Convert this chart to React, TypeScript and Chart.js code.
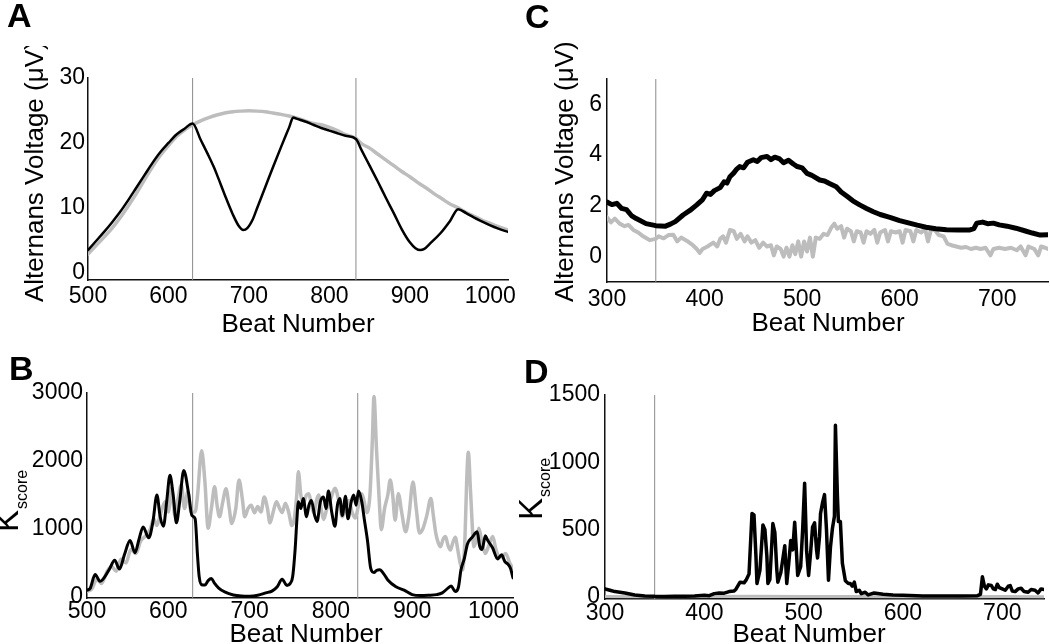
import React, { useEffect, useRef } from "react";
import { Chart, registerables } from "chart.js";

Chart.register(...registerables);

const FONT = '"Liberation Sans", Arial, Helvetica, sans-serif';
const GRAY = "#bdbdbd";
const BLACK = "#000000";
const MARKER = "#8c8c8c";

// ---------- Panel A : Alternans voltage (simulated) ----------
const aGrayBeats = [500, 510, 520, 530, 540, 550, 560, 570, 580, 590, 600, 610, 620, 630, 640, 650, 660, 670, 680, 690, 700, 710, 720, 730, 740, 750, 760, 770, 780, 790, 800, 810, 820, 833, 840, 850, 860, 870, 880, 890, 900, 910, 920, 930, 940, 950, 960, 970, 980, 990, 1000, 1010, 1022];
const aGray = [2.9, 4.2, 5.5, 6.9, 8.5, 10.3, 12.2, 14.3, 16.3, 18.1, 19.6, 21.0, 22.0, 22.8, 23.4, 23.9, 24.3, 24.6, 24.8, 24.9, 24.95, 24.9, 24.8, 24.6, 24.4, 24.15, 23.8, 23.4, 23.0, 22.8, 22.4, 21.9, 21.3, 20.7, 19.9, 19.2, 18.3, 17.4, 16.5, 15.6, 14.8, 13.9, 13.1, 12.2, 11.4, 10.6, 10.0, 9.3, 8.7, 8.1, 7.6, 7.1, 6.6];
const aBlackBeats = [500, 510, 520, 530, 540, 550, 560, 570, 580, 590, 600, 610, 620, 630, 640, 650, 656, 660, 670, 680, 687, 693, 698, 705, 710, 720, 730, 740, 750, 755, 760, 770, 780, 790, 800, 810, 820, 833, 840, 850, 860, 870, 880, 890, 900, 907, 913, 918, 925, 938, 950, 960, 970, 980, 990, 1000, 1010, 1022];
const aBlack = [3.5, 4.9, 6.3, 7.8, 9.4, 11.2, 13.1, 15.0, 16.9, 18.6, 20.0, 21.3, 22.2, 23.0, 20.5, 18.0, 16.4, 15.2, 12.0, 9.0, 7.3, 6.6, 6.9, 8.3, 9.9, 13.1, 16.3, 19.4, 22.4, 23.9, 23.7, 23.3, 22.8, 22.3, 21.9, 21.5, 21.1, 20.6, 18.9, 16.5, 14.1, 11.6, 9.2, 6.7, 4.7, 3.8, 3.5, 3.7, 4.5, 6.1, 8.0, 9.8, 9.2, 8.5, 7.9, 7.3, 6.8, 6.3];
const aXTicks = [500, 600, 700, 800, 900, 1000];
const aYTicks = [0, 10, 20, 30];
const abMarkers = [630, 833];

// ---------- Panel B : Kscore (simulated) ----------
const bBlackBeats = [500, 504, 510, 516, 522, 528, 534, 540, 546, 553, 559, 564, 569, 576, 581, 586, 590, 594, 598, 602, 606, 610, 614, 619, 625, 629, 633, 636, 638, 641, 645, 649, 653, 657, 662, 670, 680, 690, 700, 710, 720, 728, 734, 740, 746, 750, 753, 756, 758, 760, 763, 766, 770, 773, 776, 780, 783, 787, 791, 794, 797, 801, 805, 808, 811, 814, 818, 821, 825, 828, 831, 834, 838, 841, 845, 849, 853, 856, 860, 865, 870, 880, 890, 900, 910, 920, 930, 937, 944, 948, 953, 957, 960, 964, 968, 974, 980, 983, 986, 990, 993, 999, 1005, 1010, 1014, 1018, 1021, 1024];
const bBlack = [100, 130, 330, 230, 300, 420, 540, 410, 620, 830, 650, 850, 1030, 870, 1100, 1500, 1180, 1040, 1400, 1790, 1500, 1090, 1400, 1860, 1520, 1200, 1150, 600, 300, 180, 175, 240, 270, 200, 130, 70, 30, 15, 12, 25, 60, 90, 150, 260, 170, 200, 300, 700, 1100, 1400, 1300, 1450, 1180, 1350, 1420, 1200, 1110, 1400, 1470, 1300, 1560, 1250, 1040, 1350, 1450, 1200, 1480, 1150, 1400, 1500, 1350, 1560, 1400, 1150, 830, 420, 360, 390, 400, 340, 250, 150, 100, 35, 20, 25, 35, 60, 130, 160, 80, 150, 400, 560, 780, 880, 960, 750, 700, 900, 830, 720, 560, 620, 520, 480, 420, 280];
const bGrayBeats = [500, 506, 512, 518, 524, 530, 536, 542, 548, 554, 560, 566, 572, 578, 582, 586, 590, 596, 600, 604, 608, 612, 616, 620, 624, 628, 633, 636, 641, 645, 649, 653, 657, 660, 663, 667, 671, 675, 678, 683, 687, 691, 694, 698, 702, 706, 710, 714, 718, 722, 725, 729, 733, 737, 740, 744, 748, 752, 755, 758, 760, 763, 766, 770, 773, 776, 779, 783, 785, 788, 791, 795, 800, 805, 810, 814, 818, 822, 826, 830, 834, 838, 841, 844, 848, 851, 853, 856, 860, 862, 866, 870, 873, 876, 879, 883, 887, 892, 896, 901, 905, 909, 913, 918, 923, 926, 929, 932, 935, 938, 941, 944, 947, 950, 953, 956, 959, 962, 965, 967, 969, 972, 976, 980, 982, 985, 988, 990, 994, 999, 1003, 1007, 1011, 1015, 1020, 1024];
const bGray = [80, 120, 260, 200, 360, 450, 380, 560, 500, 700, 640, 820, 900, 1000, 1150, 1050, 1200, 1400, 1250, 1600, 1200, 1450, 1650, 1300, 1550, 1250, 1250, 1500, 2150, 1700, 1010, 1300, 1620, 1350, 1180, 1400, 1590, 1300, 1080, 1300, 1720, 1450, 1180, 1300, 1350, 1240, 1330, 1250, 1470, 1300, 1090, 1250, 1400, 1300, 1240, 1380, 1250, 1050, 1150, 1500, 1840, 1500, 1380, 1500, 1520, 1350, 1240, 1450, 1500, 1300, 1140, 1300, 1450, 1600, 1400, 1180, 1300, 1420, 1250, 1160, 1350, 1520, 1400, 1240, 1500, 2300, 2950, 2200, 1300, 990, 1300, 1500, 1720, 1500, 1130, 1520, 1250, 960, 1200, 1690, 1300, 940, 1000, 1200, 1450, 1200, 940, 800, 740, 850, 890, 760, 690, 800, 880, 700, 500, 400, 900, 1700, 2130, 1500, 740, 900, 1010, 850, 700, 640, 750, 890, 700, 590, 600, 640, 500, 420];
const bXTicks = [500, 600, 700, 800, 900, 1000];
const bYTicks = [0, 1000, 2000, 3000];

// ---------- Panel C : Alternans voltage (clinical) ----------
const cBlackBeats = [300, 305, 310, 315, 320, 325, 330, 340, 350, 360, 365, 370, 378, 385, 392, 398, 402, 406, 410, 416, 420, 423, 426, 430, 433, 436, 440, 444, 450, 454, 458, 464, 468, 472, 477, 481, 486, 491, 495, 500, 505, 510, 518, 523, 528, 535, 540, 546, 552, 559, 566, 573, 580, 590, 600, 610, 618, 627, 637, 648, 660, 672, 676, 679, 685, 690, 696, 702, 710, 719, 728, 736, 744, 752];
const cBlack = [2.15, 2.05, 2.1, 1.9, 1.85, 1.62, 1.5, 1.3, 1.22, 1.2, 1.28, 1.38, 1.64, 1.82, 2.04, 2.25, 2.5, 2.45, 2.6, 2.72, 2.95, 2.9, 3.15, 3.3, 3.45, 3.55, 3.5, 3.72, 3.82, 3.75, 3.9, 3.95, 3.82, 3.92, 3.85, 3.7, 3.8, 3.65, 3.55, 3.5, 3.28, 3.2, 3.02, 2.98, 2.88, 2.75, 2.55, 2.38, 2.2, 2.04, 1.9, 1.77, 1.66, 1.55, 1.42, 1.32, 1.24, 1.16, 1.1, 1.06, 1.05, 1.05, 1.1, 1.32, 1.36, 1.3, 1.32, 1.25, 1.2, 1.12, 1.02, 0.93, 0.85, 0.86];
const cGrayBeats = [300, 304, 308, 313, 318, 322, 327, 332, 337, 344, 350, 353, 358, 363, 368, 372, 376, 382, 388, 392, 395, 398, 403, 409, 413, 416, 419, 422, 426, 430, 433, 437, 441, 444, 448, 452, 456, 460, 464, 468, 471, 474, 478, 481, 484, 487, 490, 493, 496, 499, 502, 505, 508, 511, 514, 518, 522, 526, 530, 533, 536, 540, 543, 546, 550, 553, 556, 560, 563, 566, 570, 574, 577, 580, 585, 588, 591, 596, 600, 603, 606, 611, 614, 617, 622, 626, 629, 632, 636, 640, 645, 649, 653, 658, 663, 668, 673, 678, 683, 688, 693, 696, 702, 708, 714, 720, 724, 729, 732, 738, 742, 745, 749, 752];
const cGray = [1.55, 1.35, 1.5, 1.3, 1.2, 1.25, 1.05, 0.95, 0.8, 0.65, 0.7, 0.8, 0.72, 0.85, 0.86, 0.6, 0.75, 0.62, 0.45, 0.3, 0.15, 0.3, 0.4, 0.55, 0.4, 0.7, 0.8, 0.55, 1.05, 1.0, 0.7, 0.9, 0.6, 0.8, 0.55, 0.65, 0.35, 0.55, 0.4, 0.45, 0.05, 0.4, 0.3, 0.0, 0.35, 0.0, 0.45, 0.1, 0.6, 0.0, 0.6, 0.2, 0.75, 0.0, 0.75, 0.7, 0.9, 0.85, 1.15, 1.3, 1.1, 1.2, 0.75, 1.1, 1.0, 0.6, 1.0, 0.95, 0.55, 1.0, 0.9, 1.05, 0.55, 0.95, 1.05, 0.6, 1.0, 0.95, 1.0, 0.55, 1.05, 1.0, 0.6, 1.05, 0.95, 1.1, 0.6, 1.05, 1.05, 0.85, 0.8, 0.5, 0.45, 0.4, 0.35, 0.38, 0.3, 0.35, 0.3, 0.35, 0.05, 0.3, 0.35, 0.3, 0.35, 0.25, 0.4, 0.05, 0.4, 0.3, 0.05, 0.4, 0.35, 0.3];
const cXTicks = [300, 400, 500, 600, 700];
const cYTicks = [0, 2, 4, 6];
const cdMarkers = [350];

// ---------- Panel D : Kscore (clinical) ----------
const dBlackBeats = [300, 305, 310, 320, 330, 340, 350, 360, 370, 380, 390, 400, 405, 410, 415, 420, 425, 430, 432, 436, 440, 442, 445, 448, 450, 452, 453, 456, 459, 461, 463, 464, 466, 469, 471, 473, 474, 477, 480, 481, 483, 485, 487, 489, 491, 493, 494, 497, 499, 501, 503, 505, 507, 509, 511, 513, 514, 516, 517, 519, 521, 523, 525, 527, 529, 531, 532, 534, 535, 537, 539, 542, 545, 547, 549, 551, 553, 556, 558, 562, 565, 571, 580, 590, 600, 620, 640, 660, 675, 678, 680, 682, 684, 686, 689, 691, 693, 695, 697, 700, 703, 706, 708, 710, 713, 716, 719, 722, 726, 729, 733, 736, 739, 742];
const dBlack = [60, 50, 40, 30, 15, 8, 5, 4, 5, 6, 8, 12, 10, 25, 30, 28, 40, 45, 60, 110, 105, 125, 170, 620, 610, 300, 100, 200, 535, 500, 300, 100, 130, 545, 480, 200, 110, 180, 330, 380, 100, 250, 420, 350, 555, 300, 160, 225, 500, 845, 340, 160, 330, 520, 550, 350, 290, 450, 620, 700, 760, 500, 125, 370, 510, 600, 1275, 750, 560, 560, 250, 120, 100, 100, 80, 110, 40, 50, 25, 35, 15, 30, 20, 15, 12, 8, 7, 8, 10, 20, 150, 80, 60, 90, 85, 60, 55, 95, 70, 60, 50, 80, 85, 45, 40, 60, 65, 40, 35, 55, 50, 30, 60, 55];
const dGrayBeats = [300, 350, 400, 450, 500, 550, 600, 650, 700, 742];
const dGray = [4, 2, 3, 5, 4, 3, 2, 2, 3, 2];
const dXTicks = [300, 400, 500, 600, 700];
const dYTicks = [0, 500, 1000, 1500];

const toPoints = (xs: number[], ys: number[]) => xs.map((x, i) => ({ x, y: ys[i] }));

type Area = { left: number; top: number; right: number; bottom: number };
type Series = { xs: number[]; ys: number[]; color: string; width: number; smooth: boolean };
type Panel = {
  key: string;
  area: Area;
  xMin: number; xMax: number; yMin: number; yMax: number;
  xTicks: number[]; yTicks: number[];
  xPad: number; yPad: number;
  markers: number[];
  series: Series[];
  draw: (ctx: CanvasRenderingContext2D) => void;
};

const YW = 70;
const XH = 40;

function drawLetter(ctx: CanvasRenderingContext2D, t: string, x: number, y: number) {
  ctx.font = `bold 34px ${FONT}`;
  ctx.textAlign = "left";
  ctx.textBaseline = "alphabetic";
  ctx.fillStyle = "#000";
  ctx.fillText(t, x, y);
}
function drawXTitle(ctx: CanvasRenderingContext2D, x: number, y: number) {
  ctx.font = `26px ${FONT}`;
  ctx.textAlign = "center";
  ctx.textBaseline = "alphabetic";
  ctx.fillStyle = "#000";
  ctx.fillText("Beat Number", x, y);
}
function drawVoltTitle(ctx: CanvasRenderingContext2D, x: number, y: number, clipTop: number) {
  ctx.save();
  ctx.beginPath();
  ctx.rect(x - 40, clipTop, 80, 400);
  ctx.clip();
  ctx.translate(x, y);
  ctx.rotate(-Math.PI / 2);
  ctx.font = `26px ${FONT}`;
  ctx.textAlign = "left";
  ctx.textBaseline = "alphabetic";
  ctx.fillStyle = "#000";
  ctx.fillText("Alternans Voltage (\u03bcV)", 0, 0);
  ctx.restore();
}
function drawKscore(ctx: CanvasRenderingContext2D, x: number, y: number, subOffset: number) {
  ctx.save();
  ctx.translate(x, y);
  ctx.rotate(-Math.PI / 2);
  ctx.fillStyle = "#000";
  ctx.textAlign = "left";
  ctx.textBaseline = "alphabetic";
  ctx.font = `33px ${FONT}`;
  ctx.fillText("K", 0, 0);
  const w = ctx.measureText("K").width;
  ctx.font = `16px ${FONT}`;
  ctx.fillText("score", w + 1, subOffset);
  ctx.restore();
}

const panels: Panel[] = [
  {
    key: "A",
    area: { left: 88, top: 78, right: 508, bottom: 280 },
    xMin: 500, xMax: 1022, yMin: -1.1, yMax: 30,
    xTicks: aXTicks, yTicks: aYTicks, xPad: 3, yPad: 3,
    markers: abMarkers,
    series: [
      { xs: aGrayBeats, ys: aGray, color: GRAY, width: 3.5, smooth: true },
      { xs: aBlackBeats, ys: aBlack, color: BLACK, width: 2.5, smooth: true },
    ],
    draw: (ctx) => {
      drawLetter(ctx, "A", 7, 27);
      drawXTitle(ctx, 298, 332);
      drawVoltTitle(ctx, 43, 302, 46);
    },
  },
  {
    key: "B",
    area: { left: 87, top: 393, right: 513, bottom: 598 },
    xMin: 500, xMax: 1024, yMin: -15, yMax: 3000,
    xTicks: bXTicks, yTicks: bYTicks, xPad: 0, yPad: 4,
    markers: abMarkers,
    series: [
      { xs: bGrayBeats, ys: bGray, color: GRAY, width: 3.5, smooth: true },
      { xs: bBlackBeats, ys: bBlack, color: BLACK, width: 3, smooth: true },
    ],
    draw: (ctx) => {
      drawLetter(ctx, "B", 9, 380);
      drawXTitle(ctx, 306, 642);
      drawKscore(ctx, 18, 532, 9);
    },
  },
  {
    key: "C",
    area: { left: 607, top: 79, right: 1048, bottom: 282 },
    xMin: 300, xMax: 752, yMin: -1, yMax: 7,
    xTicks: cXTicks, yTicks: cYTicks, xPad: 4, yPad: 5,
    markers: cdMarkers,
    series: [
      { xs: cGrayBeats, ys: cGray, color: GRAY, width: 4, smooth: false },
      { xs: cBlackBeats, ys: cBlack, color: BLACK, width: 5, smooth: false },
    ],
    draw: (ctx) => {
      drawLetter(ctx, "C", 525, 28);
      drawXTitle(ctx, 828, 331);
      drawVoltTitle(ctx, 573, 302, 0);
    },
  },
  {
    key: "D",
    area: { left: 605, top: 395, right: 1044, bottom: 599 },
    xMin: 300, xMax: 742, yMin: -15, yMax: 1500,
    xTicks: dXTicks, yTicks: dYTicks, xPad: 1, yPad: 5,
    markers: cdMarkers,
    series: [
      { xs: dGrayBeats, ys: dGray, color: GRAY, width: 3, smooth: false },
      { xs: dBlackBeats, ys: dBlack, color: BLACK, width: 3.5, smooth: false },
    ],
    draw: (ctx) => {
      drawLetter(ctx, "D", 524, 383);
      drawXTitle(ctx, 809, 642);
      drawKscore(ctx, 542, 520, 8);
    },
  },
];

function buildConfig(p: Panel): any {
  const tickFont = { family: FONT, size: 23 };
  const markerSets = p.markers.map((m) => ({
    data: [{ x: m, y: p.yMin }, { x: m, y: p.yMax }],
    borderColor: MARKER,
    borderWidth: 1,
    pointRadius: 0,
    order: 10,
  }));
  const lineSets = p.series.map((s, i) => ({
    data: toPoints(s.xs, s.ys),
    borderColor: s.color,
    borderWidth: s.width,
    pointRadius: 0,
    borderJoinStyle: "round",
    borderCapStyle: "round",
    cubicInterpolationMode: s.smooth ? "monotone" : "default",
    tension: 0,
    order: p.series.length - i,
  }));
  return {
    type: "line",
    data: { datasets: [...markerSets, ...lineSets] },
    options: {
      animation: false,
      responsive: false,
      maintainAspectRatio: false,
      events: [],
      layout: {
        padding: {
          left: p.area.left - YW,
          top: p.area.top,
          right: 1050 - p.area.right,
          bottom: 644 - p.area.bottom - XH,
        },
      },
      plugins: { legend: { display: false }, tooltip: { enabled: false }, title: { display: false } },
      scales: {
        x: {
          type: "linear",
          min: p.xMin,
          max: p.xMax,
          grid: { display: false, drawTicks: false },
          border: { display: true, color: "#111", width: 1.5 },
          ticks: {
            autoSkip: false,
            maxRotation: 0,
            padding: p.xPad,
            color: "#000",
            font: tickFont,
            callback: (v: number) => String(v),
          },
          afterBuildTicks: (s: any) => {
            s.ticks = p.xTicks.map((v) => ({ value: v }));
          },
          afterFit: (s: any) => {
            s.height = XH;
          },
        },
        y: {
          type: "linear",
          min: p.yMin,
          max: p.yMax,
          grid: { display: false, drawTicks: false },
          border: { display: true, color: "#111", width: 1.5 },
          ticks: {
            autoSkip: false,
            padding: p.yPad,
            color: "#000",
            font: tickFont,
            callback: (v: number) => String(v),
          },
          afterBuildTicks: (s: any) => {
            s.ticks = p.yTicks.map((v) => ({ value: v }));
          },
          afterFit: (s: any) => {
            s.width = YW;
          },
        },
      },
    },
    plugins: [
      {
        id: "panelText" + p.key,
        afterDraw: (chart: any) => {
          const ctx = chart.ctx as CanvasRenderingContext2D;
          ctx.save();
          p.draw(ctx);
          ctx.restore();
        },
      },
    ],
  };
}

function PanelChart({ panel }: { panel: Panel }) {
  const ref = useRef<HTMLCanvasElement | null>(null);
  useEffect(() => {
    if (!ref.current) return;
    const chart = new Chart(ref.current, buildConfig(panel));
    return () => chart.destroy();
  }, [panel]);
  return (
    <canvas
      ref={ref}
      width={1050}
      height={644}
      style={{ position: "absolute", left: 0, top: 0, width: 1050, height: 644 }}
    />
  );
}

export default function App() {
  return (
    <div
      style={{
        position: "absolute",
        left: 0,
        top: 0,
        width: 1050,
        height: 644,
        background: "#ffffff",
        overflow: "hidden",
      }}
    >
      {panels.map((p) => (
        <PanelChart key={p.key} panel={p} />
      ))}
    </div>
  );
}
